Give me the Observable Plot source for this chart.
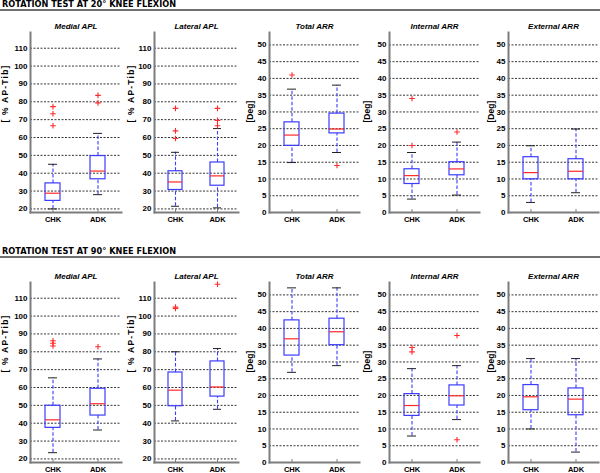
<!DOCTYPE html>
<html><head><meta charset="utf-8">
<script src="https://cdn.jsdelivr.net/npm/d3@7"></script>
<script src="https://cdn.jsdelivr.net/npm/@observablehq/plot@0.6"></script>
<style>
body{margin:0;background:#fff;}
#root{position:relative;width:600px;height:473px;overflow:hidden;background:#fff;}
.hdr{position:absolute;left:2px;font-family:"DejaVu Sans",sans-serif;font-weight:bold;font-size:8.2px;line-height:9px;color:#000;white-space:nowrap;}
.rule{position:absolute;left:0;width:600px;height:2px;background:#707070;}
.panel{position:absolute;}
.panel svg{overflow:visible;}
</style></head><body><div id="root"></div>
<script>
// ---------- data ----------
const rowTitles = ["ROTATION TEST AT 20\u00B0 KNEE FLEXION", "ROTATION TEST AT 90\u00B0 KNEE FLEXION"];
const panelTitles = ["Medial APL", "Lateral APL", "Total ARR", "Internal ARR", "External ARR"];
const yLabels = ["[ % AP-Tib]", "[ % AP-Tib]", "[Deg]", "[Deg]", "[Deg]"];
const groups = ["CHK", "ADK"];
const aplTicks = [20, 30, 40, 50, 60, 70, 80, 90, 100, 110];
const arrTicks = [0, 5, 10, 15, 20, 25, 30, 35, 40, 45, 50];

// 20° knee flexion — each panel: [CHK, ADK]
const lo20  = [[20, 28], [21.5, 20.6], [14.9, 17.9], [4, 5.2], [3, 5.9]];
const q1_20 = [[24.5, 36.6], [30.6, 33], [19.9, 23.6], [8.5, 11.1], [9.9, 9.9]];
const med20 = [[28.8, 41.2], [35.1, 38.5], [23.1, 24.9], [11, 13], [11.9, 12.3]];
const q3_20 = [[34.3, 49.6], [41.1, 46], [26.9, 29.5], [12.9, 15], [16.5, 15.9]];
const hi20  = [[45, 62.3], [51.7, 65], [36.8, 38], [17.9, 21], [19.9, 24.9]];
const out20 = [[[66.6, 73.3, 77.3], [79.4, 83.6]], [[59.4, 63.7, 76.3], [66.6, 69.6, 76.3]], [[41], [14]], [[20, 34], [24]], [[], []]];

// 90° knee flexion — each panel: [CHK, ADK]
const lo90  = [[23.5, 36.2], [41.3, 47.8], [26.9, 28.9], [7.9, 12.8], [10, 3.1]];
const q1_90 = [[37.4, 44.3], [49.5, 54.9], [31.9, 35], [13.9, 17], [15.6, 14.1]];
const med90 = [[41.9, 50.9], [58.5, 60.3], [36.9, 39], [17, 19.9], [19.6, 18.9]];
const q3_90 = [[49.8, 59.3], [68.4, 74.6], [42.4, 42.9], [20.4, 23], [23.1, 22.1]];
const hi90  = [[65.4, 76], [80, 81.8], [52.1, 52.1], [28, 28.9], [31, 31]];
const out90 = [[[83.2, 84.8, 86.2], [82.8]], [[104.2, 105], [117.8]], [[], []], [[33, 34.3], [37.9, 6.8]], [[], []]];

const aplDomain = [18, 118.8];
const arrDomain = [0, 53.7];

// ---------- layout / style ----------
const svgLeft = [0, 122, 239, 360, 480];
const axisX   = [30, 154, 269, 389, 508];
const rightX  = [121, 238, 359, 479, 598];
const labelOffset = [25.5, 23, 19, 22, 17];
const rowTop = [12, 262];
const rowH = [222, 211];
const headTop = [0, 246.7];
const ruleTop = [9, 256];
const frameH = 180;
const BLUE = "#3c3cff", RED = "#ff2a2a", GREY = "#7c7c7c", CAP = "#222";
const FONT = "Liberation Sans, Arial, sans-serif";

const plusSymbol = {
  draw(ctx, size) {
    const r = Math.sqrt(size / Math.PI);
    ctx.moveTo(-r, 0); ctx.lineTo(r, 0);
    ctx.moveTo(0, -r); ctx.lineTo(0, r);
  }
};

const rows = [
  {lo: lo20, q1: q1_20, med: med20, q3: q3_20, hi: hi20, out: out20},
  {lo: lo90, q1: q1_90, med: med90, q3: q3_90, hi: hi90, out: out90}
];

const root = document.getElementById("root");

rows.forEach((S, r) => {
  const h = document.createElement("div");
  h.className = "hdr"; h.style.top = headTop[r] + "px"; h.textContent = rowTitles[r];
  root.appendChild(h);
  const ru = document.createElement("div");
  ru.className = "rule"; ru.style.top = ruleTop[r] + "px";
  root.appendChild(ru);

  panelTitles.forEach((title, p) => {
    const isAPL = p < 2;
    const domain = isAPL ? aplDomain : arrDomain;
    const ticks = isAPL ? aplTicks : arrTicks;
    const boxes = groups.map((g, i) => ({group: g, lo: S.lo[p][i], q1: S.q1[p][i], med: S.med[p][i], q3: S.q3[p][i], hi: S.hi[p][i]}));
    const outs = groups.flatMap((g, i) => S.out[p][i].map(v => ({group: g, v})));
    const mL = axisX[p] - svgLeft[p];
    const W = rightX[p] + 1 - svgLeft[p];
    const H = rowH[r];
    const mT = 20, mB = H - mT - frameH;

    const chart = Plot.plot({
      width: W, height: H,
      marginLeft: mL, marginRight: 1, marginTop: mT, marginBottom: mB,
      style: {fontFamily: FONT, background: "transparent"},
      x: {type: "band", domain: groups, paddingInner: 0.66, paddingOuter: 0.32, axis: null},
      y: {domain, axis: null},
      marks: [
        Plot.gridY(ticks, {stroke: "#000", strokeOpacity: 1, strokeWidth: 0.8, strokeDasharray: "2,1.5"}),
        Plot.ruleX(boxes, {x: "group", y1: "lo", y2: "q1", stroke: BLUE, strokeWidth: 1.1, strokeDasharray: "3.5,2"}),
        Plot.ruleX(boxes, {x: "group", y1: "q3", y2: "hi", stroke: BLUE, strokeWidth: 1.1, strokeDasharray: "3.5,2"}),
        Plot.tickY(boxes, {x: "group", y: "lo", stroke: CAP, strokeWidth: 1, inset: 3}),
        Plot.tickY(boxes, {x: "group", y: "hi", stroke: CAP, strokeWidth: 1, inset: 3}),
        Plot.barY(boxes, {x: "group", y1: "q1", y2: "q3", fill: "none", stroke: BLUE, strokeWidth: 1.2}),
        Plot.tickY(boxes, {x: "group", y: "med", stroke: RED, strokeWidth: 1.2}),
        Plot.dot(outs, {x: "group", y: "v", symbol: plusSymbol, r: 2.8, stroke: RED, strokeWidth: 1.1, fill: "none"}),
        Plot.frame({anchor: "left", stroke: GREY, strokeWidth: 2}),
        Plot.frame({anchor: "bottom", stroke: GREY, strokeWidth: 2}),
        Plot.ruleX(groups, {x: d => d, stroke: GREY, strokeWidth: 1, insetTop: frameH - 3}),
        Plot.axisY(ticks, {tickSize: 0, tickPadding: 3, fontSize: 8, fontWeight: "bold", label: null, fill: "#000"}),
        Plot.axisX({tickSize: 0, tickPadding: 4, fontSize: 7.5, fontWeight: "bold", label: null, fill: "#000"}),
        Plot.text([title], {frameAnchor: "top", dy: -9, fontSize: 8, fontStyle: "italic", fontWeight: "bold", fill: "#000"}),
        Plot.text([yLabels[p]], {frameAnchor: "left", dx: -labelOffset[p], rotate: -90, fontSize: 8.5, fontWeight: "bold", fill: "#000"})
      ]
    });
    // widen the spacing of the rotated unit labels, as in the original
    chart.querySelectorAll("text").forEach(t => {
      if (t.textContent === yLabels[p] && isAPL) t.style.letterSpacing = "1.2px";
    });
    const wrap = document.createElement("div");
    wrap.className = "panel";
    wrap.style.left = svgLeft[p] + "px";
    wrap.style.top = rowTop[r] + "px";
    wrap.appendChild(chart);
    root.appendChild(wrap);
  });
});
</script>
</body></html>
